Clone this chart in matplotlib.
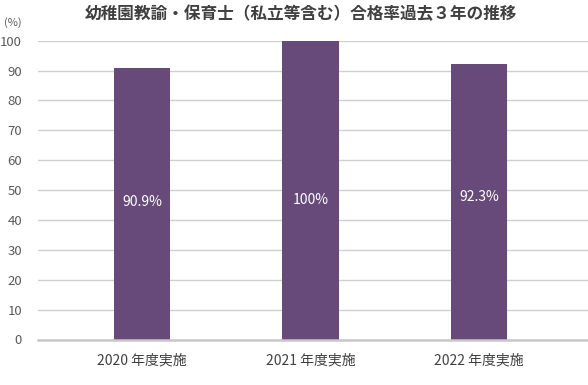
import matplotlib
matplotlib.use("Agg")
import matplotlib.pyplot as plt

plt.rcParams['font.family'] = ['Noto Sans CJK JP', 'DejaVu Sans']

categories = ["2020 年度実施", "2021 年度実施", "2022 年度実施"]
values = [90.9, 100, 92.3]
labels = ["90.9%", "100%", "92.3%"]
label_y = [46.0, 46.7, 47.7]
yticks = list(range(0, 101, 10))

fig = plt.figure(figsize=(5.88, 3.85), dpi=100)
ax = fig.add_axes([38/588, 1-339.5/385, (588-38)/588, (339.5-40.7)/385])

x = list(range(len(categories)))
ax.bar(x, values, width=0.333, color="#674a7a", zorder=3)
for xi, ly, t in zip(x, label_y, labels):
    ax.text(xi, ly, t, ha="center", va="center", color="white", fontsize=10, zorder=4)

ax.set_xlim(-0.617, 2.647)
ax.set_ylim(0, 100)
ax.set_yticks(yticks)
ax.set_yticklabels([str(t) for t in yticks], color="#595959", fontsize=9.5)
ax.set_xticks(x)
ax.set_xticklabels(categories, color="#404040", fontsize=10)
ax.tick_params(axis="both", length=0)
ax.tick_params(axis="y", pad=11.5)
ax.tick_params(axis="x", pad=10)
ax.grid(axis="y", color="#d0d0d0", linewidth=1, zorder=0)
for s in ["top", "right", "left"]:
    ax.spines[s].set_visible(False)
ax.spines["bottom"].set_color("#c8c8c8")
ax.spines["bottom"].set_linewidth(1.8)
ax.spines["bottom"].set_zorder(5)

fig.text(301/588, 1-14/385, "幼稚園教諭・保育士（私立等含む）合格率過去３年の推移",
         ha="center", va="center", fontsize=12, fontweight="bold", color="#404040")
fig.text(13/588, 1-23/385, "(%)", ha="center", va="center", fontsize=8, color="#595959")

fig.savefig("out.png", dpi=100)
